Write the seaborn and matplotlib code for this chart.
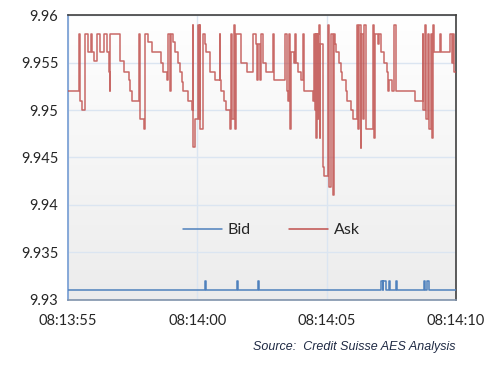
import numpy as np
import pandas as pd
import seaborn as sns
import matplotlib.pyplot as plt

# seconds after 08:13:55 and quoted prices (step data)
ask_t = [0.00, 0.44, 0.46, 0.54, 0.64, 0.77, 0.90, 0.93, 0.99, 1.12, 1.25, 1.38, 1.51, 1.57, 1.62,
         1.64, 2.02, 2.15, 2.35, 2.41, 2.46, 2.76, 2.78, 2.93, 2.98, 3.10, 3.23, 3.58, 3.69, 3.81,
         3.88, 3.95, 4.00, 4.05, 4.14, 4.26, 4.33, 4.39, 4.46, 4.65, 4.78, 4.82, 4.85, 4.91, 5.04,
         5.07, 5.09, 5.11, 5.22, 5.28, 5.35, 5.48, 5.67, 5.86, 5.88, 5.93, 6.03, 6.12, 6.25, 6.27,
         6.31, 6.35, 6.42, 6.44, 6.51, 6.68, 6.93, 7.15, 7.25, 7.32, 7.34, 7.41, 7.47, 7.54, 7.67,
         7.72, 7.94, 7.98, 8.40, 8.45, 8.49, 8.53, 8.58, 8.62, 8.75, 8.79, 8.82, 8.88, 9.01, 9.07,
         9.14, 9.46, 9.52, 9.55, 9.57, 9.59, 9.62, 9.65, 9.68, 9.71, 9.74, 9.76, 9.84, 9.91, 10.04,
         10.08, 10.17, 10.23, 10.29, 10.33, 10.35, 10.48, 10.54, 10.60, 10.73, 10.80, 10.93, 11.03,
         11.18, 11.21, 11.25, 11.31, 11.34, 11.41, 11.46, 11.51, 11.80, 11.83, 11.86, 12.00, 12.03,
         12.09, 12.21, 12.32, 12.37, 12.41, 12.54, 12.60, 12.67, 13.41, 13.71, 13.73, 13.80, 13.84,
         13.90, 13.93, 13.97, 14.02, 14.06, 14.12, 14.15, 14.38, 14.41, 14.77, 14.83, 14.89, 14.92,
         15.00]
ask_v = [9.952, 9.958, 9.951, 9.950, 9.958, 9.9561, 9.958, 9.9561, 9.9552, 9.958, 9.9561, 9.958, 9.9561, 9.954, 9.952,
         9.958, 9.9552, 9.954, 9.9532, 9.952, 9.951, 9.958, 9.9491, 9.948, 9.958, 9.9572, 9.9561, 9.955, 9.954, 9.9532,
         9.958, 9.952, 9.958, 9.9572, 9.9561, 9.955, 9.954, 9.953, 9.952, 9.951, 9.950, 9.959, 9.9461, 9.9491, 9.959,
         9.9491, 9.959, 9.948, 9.958, 9.957, 9.9561, 9.954, 9.9532, 9.958, 9.9532, 9.952, 9.951, 9.950, 9.9491, 9.948,
         9.958, 9.9491, 9.959, 9.948, 9.958, 9.955, 9.954, 9.958, 9.957, 9.9532, 9.957, 9.9532, 9.958, 9.955, 9.954,
         9.954, 9.958, 9.9532, 9.958, 9.952, 9.951, 9.958, 9.948, 9.9561, 9.955, 9.958, 9.955, 9.954, 9.9532, 9.958,
         9.952, 9.951, 9.958, 9.950, 9.958, 9.947, 9.958, 9.9491, 9.958, 9.959, 9.947, 9.957, 9.944, 9.943, 9.959,
         9.9419, 9.958, 9.941, 9.958, 9.957, 9.9561, 9.955, 9.954, 9.9532, 9.952, 9.951, 9.950, 9.9491,
         9.959, 9.948, 9.959, 9.946, 9.958, 9.9491, 9.959, 9.948, 9.959, 9.947, 9.958, 9.957, 9.958,
         9.9561, 9.955, 9.954, 9.952, 9.9532, 9.952, 9.959, 9.952, 9.951, 9.958, 9.950, 9.959, 9.9491,
         9.957, 9.958, 9.948, 9.958, 9.947, 9.959, 9.9561, 9.958, 9.9561, 9.958, 9.955, 9.958, 9.954,
         9.954]

bid_t = [0.00, 5.30, 5.34, 6.55, 6.57, 7.33, 7.40, 12.10, 12.17, 12.19, 12.29, 12.41, 12.43,
         12.70, 12.72, 13.76, 13.82, 13.86, 13.95, 15.00]
bid_v = [9.931, 9.932, 9.931, 9.932, 9.931, 9.932, 9.931, 9.932, 9.931, 9.932, 9.931, 9.932, 9.931,
         9.932, 9.931, 9.932, 9.931, 9.932, 9.931, 9.931]

x_ticks = [0, 5, 10, 15]
x_labels = ["08:13:55", "08:14:00", "08:14:05", "08:14:10"]
y_ticks = [9.93, 9.935, 9.94, 9.945, 9.95, 9.955, 9.96]
y_labels = ["9.93", "9.935", "9.94", "9.945", "9.95", "9.955", "9.96"]

df = pd.concat([
    pd.DataFrame({"t": bid_t, "price": bid_v, "side": "Bid"}),
    pd.DataFrame({"t": ask_t, "price": ask_v, "side": "Ask"}),
], ignore_index=True)

sns.set_style("white")
plt.rcParams["font.family"] = ["Lato", "DejaVu Sans"]

fig = plt.figure(figsize=(4.99, 3.67), dpi=100)
ax = fig.add_axes([0.1363, 0.1826, 0.7775, 0.7765])

# soft vertical gradient behind the plot
grad = np.linspace(1.0, 0.0, 256).reshape(-1, 1)
bg_cmap = plt.matplotlib.colors.LinearSegmentedColormap.from_list("bg", ["#ececec", "#ffffff"])
ax.imshow(grad, extent=[0, 15, 9.93, 9.96], aspect="auto", cmap=bg_cmap,
          origin="upper", zorder=0, vmin=0, vmax=1)

sns.lineplot(data=df, x="t", y="price", hue="side", palette={"Bid": "#4f81bd", "Ask": "#c0504d"},
             estimator=None, sort=False, drawstyle="steps-post", linewidth=1.1, ax=ax, zorder=3)
for line in ax.get_lines():
    if line.get_color() == "#c0504d":
        line.set_alpha(0.85)

ax.set_xlim(0, 15)
ax.set_ylim(9.93, 9.96)
ax.set_xticks(x_ticks)
ax.set_xticklabels(x_labels)
ax.set_yticks(y_ticks)
ax.set_yticklabels(y_labels)
ax.set_xlabel("")
ax.set_ylabel("")
ax.set_axisbelow(True)
ax.grid(True, color="#dbe5f1", linewidth=1.0)

for side in ["top", "right"]:
    ax.spines[side].set_color("#404040")
    ax.spines[side].set_linewidth(1.2)
ax.spines["left"].set_color("#7ea3d6")
ax.spines["left"].set_linewidth(1.3)
ax.spines["bottom"].set_color("#8093ab")
ax.spines["bottom"].set_linewidth(1.2)
ax.tick_params(axis="both", which="major", direction="out", length=4, width=1.2,
               color="#7ea3d6", labelsize=10.5, labelcolor="#262626", pad=3)
ax.tick_params(axis="x", pad=6)

handles, labels = ax.get_legend_handles_labels()
for h in handles:
    h.set_alpha(1)
ax.legend(handles, labels, loc="center", bbox_to_anchor=(0.525, 0.245), ncol=2, frameon=False,
          handlelength=2.4, columnspacing=2.4, handletextpad=0.4, fontsize=11.5)

fig.text(0.912, 0.054, "Source:  Credit Suisse AES Analysis", ha="right", va="center",
         fontsize=9, style="italic", color="#1f2a44", family=["Liberation Sans", "DejaVu Sans"])

fig.savefig("out.png", dpi=100)
